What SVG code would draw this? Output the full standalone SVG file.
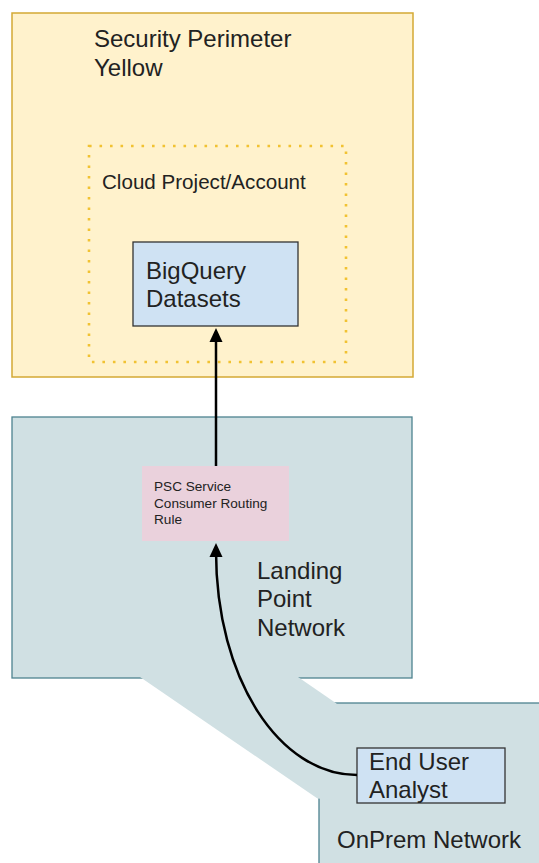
<svg xmlns="http://www.w3.org/2000/svg" width="539" height="863" viewBox="0 0 539 863">
<style>
text{font-family:"Liberation Sans",Arial,sans-serif;fill:#222}
.big{font-size:24px}
.mid{font-size:20.6px}
.sm{font-size:13.6px}
.net{fill:#d0e0e3;stroke:#4d8390;stroke-width:1.3}
.conn{fill:none;stroke:#000;stroke-width:2.5}
</style>
<defs>
<marker id="ah" markerUnits="userSpaceOnUse" markerWidth="14" markerHeight="13" refX="6" refY="6.5" orient="auto" overflow="visible">
<path d="M0,0 L14,6.5 L0,13 z" fill="#000"/>
</marker>
</defs>
<g id="perimeter">
<rect x="12" y="13" width="401" height="364" fill="#fff2cc" stroke="#d4a934" stroke-width="1.5"/>
<text class="big" x="94" y="47">Security Perimeter</text>
<text class="big" x="94" y="76">Yellow</text>
</g>
<g id="project">
<rect x="89" y="146" width="257" height="216" fill="none" stroke="#f1c232" stroke-width="2.6" stroke-dasharray="2.6 7.9"/>
<text class="mid" x="102" y="189">Cloud Project/Account</text>
</g>
<g id="bigquery">
<rect x="133" y="242" width="165" height="84" fill="#cfe2f3" stroke="#333" stroke-width="1.3"/>
<text class="big" x="146" y="279">BigQuery</text>
<text class="big" x="146" y="307">Datasets</text>
</g>
<g id="landing">
<rect x="12" y="417" width="400" height="261" class="net"/>
<text class="big" x="257" y="579">Landing</text>
<text class="big" x="257" y="607">Point</text>
<text class="big" x="257" y="636">Network</text>
</g>
<g id="onprem">
<rect x="319" y="703" width="240" height="200" class="net"/>
<polygon points="140,677 298,677 336.5,703.6 336.5,800 317.5,798.5" fill="#d0e0e3"/>
<text class="big" x="337" y="848">OnPrem Network</text>
</g>
<g id="psc">
<rect x="142" y="466" width="147" height="75" fill="#ead1dc"/>
<text class="sm" x="154" y="491">PSC Service</text>
<text class="sm" x="154" y="507.5">Consumer Routing</text>
<text class="sm" x="154" y="524">Rule</text>
</g>
<g id="enduser">
<rect x="357" y="748" width="148" height="55" fill="#cfe2f3" stroke="#333" stroke-width="1.3"/>
<text class="big" x="369" y="770">End User</text>
<text class="big" x="369" y="798">Analyst</text>
</g>
<g id="connectors">
<path class="conn" d="M216,466 L216,336" marker-end="url(#ah)"/>
<path class="conn" d="M357,775 C280,775 216,680 216,551" marker-end="url(#ah)"/>
</g>
</svg>
